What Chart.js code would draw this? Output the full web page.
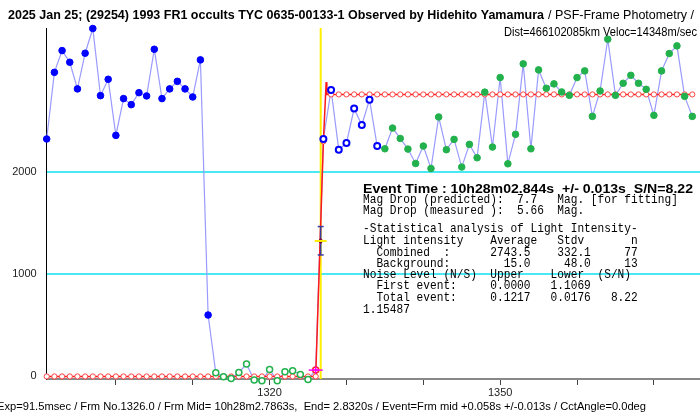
<!DOCTYPE html>
<html>
<head>
<meta charset="utf-8">
<script src="https://cdn.jsdelivr.net/npm/chart.js@4/dist/chart.umd.min.js"></script>
<style>
  html, body { margin: 0; padding: 0; background: #fff; }
  #wrap { width: 700px; height: 417px; }
</style>
</head>
<body>
<div id="wrap"><canvas id="c" width="700" height="417"></canvas></div>
<script>
// ---------------- data ----------------
const preFrames = [1291,1292,1293,1294,1295,1296,1297,1298,1299,1300,1301,1302,1303,1304,1305,1306,1307,1308,1309,1310,1311,1312];
const preValues = [2324,2976,3189,3075,2814,3163,3405,2748,2908,2359,2719,2660,2777,2745,3202,2719,2814,2888,2814,2735,3098,601];

const bgFrames = [1313,1314,1315,1316,1317,1318,1319,1320,1321,1322,1323,1324,1325];
const bgValues = [35,-4,-20,39,121,-36,-43,69,-43,45,55,20,-29];

const evFrames = [1326];
const evValues = [62];

const postBlueFrames = [1327,1328,1329,1330,1331,1332,1333,1334];
const postBlueValues = [2324,2804,2219,2284,2621,2461,2709,2255];

const postGreenFrames = [1335,1336,1337,1338,1339,1340,1341,1342,1343,1344,1345,1346,1347,1348,1349,1350,1351,1352,1353,1354,1355,1356,1357,1358,1359,1360,1361,1362,1363,1364,1365,1366,1367,1368,1369,1370,1371,1372,1373,1374,1375];
const postGreenValues = [2228,2431,2329,2225,2084,2255,2035,2539,2219,2320,2049,2271,2140,2782,2245,2925,2081,2369,3059,2228,3000,2820,2863,2784,2751,2925,2990,2545,2794,3300,2751,2869,2947,2869,2810,2555,2990,3160,3235,2741,2545];

// model (red) : circles at every frame, and the fitted curve
const modelFrames = [1291,1292,1293,1294,1295,1296,1297,1298,1299,1300,1301,1302,1303,1304,1305,1306,1307,1308,1309,1310,1311,1312,1313,1314,1315,1316,1317,1318,1319,1320,1321,1322,1323,1324,1325,1326,1327,1328,1329,1330,1331,1332,1333,1334,1335,1336,1337,1338,1339,1340,1341,1342,1343,1344,1345,1346,1347,1348,1349,1350,1351,1352,1353,1354,1355,1356,1357,1358,1359,1360,1361,1362,1363,1364,1365,1366,1367,1368,1369,1370,1371,1372,1373,1374,1375];
const modelValues = [0,0,0,0,0,0,0,0,0,0,0,0,0,0,0,0,0,0,0,0,0,0,0,0,0,0,0,0,0,0,0,0,0,0,0,0,2300,2760,2760,2760,2760,2760,2760,2760,2760,2760,2760,2760,2760,2760,2760,2760,2760,2760,2760,2760,2760,2760,2760,2760,2760,2760,2760,2760,2760,2760,2760,2760,2760,2760,2760,2760,2760,2760,2760,2760,2760,2760,2760,2760,2760,2760,2760,2760,2760];
const curveFrames = [1291,1326,1327,1327.36,1327.45,1375];
const curveValues = [0,0,2300,2880,2760,2760];

// event
const eventFrame = 1326.65;
const eventLevel = 1326;
const eventErrLow = 1189;
const eventErrHigh = 1467;

// axes
const yMin = -25, yMax = 3410;
const xMin = 1291, xMax = 1376;
const yTickValues = [0, 1000, 2000];
const xTickValues = [1300, 1310, 1320, 1330, 1340, 1350, 1360, 1370];
const xLabelValues = [1320, 1350];

// texts
const titleBold = "2025 Jan 25; (29254) 1993 FR1 occults TYC 0635-00133-1 Observed by Hidehito Yamamura";
const titleNormal = "/ PSF-Frame Photometry /";
const subTitle = "Dist=466102085km Veloc=14348m/sec";
const eventLine = "Event Time : 10h28m02.844s  +/- 0.013s  S/N=8.22";
const statLines = [
  "Mag Drop (predicted):  7.7   Mag. [for fitting]",
  "Mag Drop (measured ):  5.66  Mag.",
  "-Statistical analysis of Light Intensity-",
  "Light intensity    Average   Stdv       n",
  "  Combined  :      2743.5    332.1     77",
  "  Background:        15.0     48.0     13",
  "Noise Level (N/S)  Upper    Lower  (S/N)",
  "  First event:     0.0000   1.1069",
  "  Total event:     0.1217   0.0176   8.22",
  "1.15487"
];
const footer = "Exp=91.5msec / Frm No.1326.0 / Frm Mid= 10h28m2.7863s,  End= 2.8320s / Event=Frm mid +0.058s +/-0.013s / CctAngle=0.0deg";

// ---------------- helpers ----------------
function pts(xs, ys) { return xs.map((x, i) => ({ x: x, y: ys[i] })); }
const allFrames = preFrames.concat(bgFrames, evFrames, postBlueFrames, postGreenFrames);
const allValues = preValues.concat(bgValues, evValues, postBlueValues, postGreenValues);

function fitText(ctx, txt, x, y, w, font, color) {
  ctx.save();
  ctx.font = font; ctx.fillStyle = color;
  ctx.textBaseline = 'middle'; ctx.textAlign = 'left';
  const nat = ctx.measureText(txt).width;
  ctx.translate(x, y); ctx.scale(w / nat, 1);
  ctx.fillText(txt, 0, 0);
  ctx.restore();
}
function monoText(ctx, txt, x, y, charW) {
  ctx.save();
  ctx.font = '13px "Liberation Mono"'; ctx.fillStyle = '#000';
  ctx.textBaseline = 'middle'; ctx.textAlign = 'left';
  const adv = ctx.measureText('M').width;
  ctx.translate(x, y); ctx.scale(charW / adv, 1);
  ctx.fillText(txt, 0, 0);
  ctx.restore();
}

const textPlugin = {
  id: 'texts',
  afterDraw(chart) {
    const ctx = chart.ctx;
    fitText(ctx, titleBold, 8, 16, 536, 'bold 12px "Liberation Sans"', '#000');
    fitText(ctx, titleNormal, 548, 16, 146, '12px "Liberation Sans"', '#000');
    fitText(ctx, subTitle, 504, 32.5, 193, '12px "Liberation Sans"', '#000');
    fitText(ctx, eventLine, 363, 189, 330, 'bold 13px "Liberation Sans"', '#000');
    const ys = [200, 211, 228.3, 240.7, 252.3, 263.3, 274.3, 286, 297.7, 309.3];
    statLines.forEach((t, i) => monoText(ctx, t, 363, ys[i], 6.7));
    fitText(ctx, footer, -3, 407, 649, '11px "Liberation Sans"', '#000');
  }
};

// ---------------- chart ----------------
const tickFont = { family: 'Liberation Sans', size: 11 };

new Chart(document.getElementById('c'), {
  type: 'scatter',
  data: {
    datasets: [
      // event marker (top)
      { data: [{x: eventFrame, y: eventLevel}], pointStyle: 'line', pointRadius: 6, borderColor: '#ffee00', borderWidth: 2, showLine: false, order: 0, clip: false },
      { data: [{x: eventFrame, y: eventLevel}], pointStyle: 'rectRot', pointRadius: 2.5, backgroundColor: '#7a0040', borderColor: '#7a0040', showLine: false, order: 0, clip: false },
      { data: [{x: eventFrame, y: eventErrLow}, {x: eventFrame, y: eventErrHigh}], showLine: true, borderColor: '#3a3aa0', borderWidth: 1.5, pointStyle: 'line', pointRadius: 3, pointBorderColor: '#3a3aa0', pointBorderWidth: 1.5, order: 1, clip: false },
      // magenta cross on event frame
      { data: pts(evFrames, evValues), pointStyle: 'line', pointRadius: 7, borderColor: '#ff00ff', borderWidth: 1.5, showLine: false, order: 2, clip: false },
      { data: pts(evFrames, evValues), pointStyle: 'cross', pointRadius: 3.5, borderColor: '#ff00ff', borderWidth: 1.5, showLine: false, order: 2, clip: false },
      { data: pts(evFrames, evValues), pointStyle: 'circle', pointRadius: 3, backgroundColor: '#fff', borderColor: '#ff2020', borderWidth: 1.5, showLine: false, order: 2, clip: false },
      // observations
      { data: pts(postGreenFrames, postGreenValues), pointStyle: 'circle', pointRadius: 3.3, backgroundColor: '#22b14c', borderColor: '#22b14c', borderWidth: 1, showLine: false, order: 3, clip: false },
      { data: pts(postBlueFrames, postBlueValues), pointStyle: 'circle', pointRadius: 3, backgroundColor: '#fff', borderColor: '#0000ff', borderWidth: 2, showLine: false, order: 3, clip: false },
      { data: pts(bgFrames, bgValues), pointStyle: 'circle', pointRadius: 3, backgroundColor: '#fff', borderColor: '#22b14c', borderWidth: 1.5, showLine: false, order: 3, clip: false },
      { data: pts(preFrames, preValues), pointStyle: 'circle', pointRadius: 3.3, backgroundColor: '#0000ff', borderColor: '#0000ff', borderWidth: 1, showLine: false, order: 3, clip: false },
      // model circles and curve
      { data: pts(modelFrames, modelValues), pointStyle: 'circle', pointRadius: 2.6, backgroundColor: '#fff', borderColor: '#ff4040', borderWidth: 1, showLine: false, order: 4, clip: false },
      { data: pts(curveFrames, curveValues), showLine: true, borderColor: '#ff1a1a', borderWidth: 1.5, pointRadius: 0, tension: 0, order: 5, clip: false },
      // connecting line
      { data: pts(allFrames, allValues), showLine: true, borderColor: '#9a9aff', borderWidth: 1.2, pointRadius: 0, tension: 0, order: 6, clip: false },
      // event vertical line
      { data: [{x: eventFrame, y: yMin}, {x: eventFrame, y: yMax}], showLine: true, borderColor: '#ffee00', borderWidth: 2, pointRadius: 0, order: 7 }
    ]
  },
  options: {
    responsive: false,
    animation: false,
    devicePixelRatio: 1,
    events: [],
    layout: { autoPadding: false, padding: { top: 28, left: 0, right: 0, bottom: 0 } },
    plugins: { legend: { display: false }, tooltip: { enabled: false }, title: { display: false } },
    scales: {
      x: {
        type: 'linear', min: xMin, max: xMax,
        afterBuildTicks: s => { s.ticks = xTickValues.map(v => ({ value: v })); },
        afterFit: s => { s.height = 38; s.paddingLeft = 0; s.paddingRight = 0; },
        ticks: { autoSkip: false, maxRotation: 0, padding: 1, color: '#222', font: tickFont,
                 callback: v => xLabelValues.includes(v) ? String(v) : '' },
        grid: { drawOnChartArea: false, drawTicks: true, tickLength: 6, color: '#444', lineWidth: 1 },
        border: { color: '#888', width: 2 }
      },
      y: {
        type: 'linear', min: yMin, max: yMax,
        afterBuildTicks: s => { s.ticks = yTickValues.map(v => ({ value: v })); },
        afterFit: s => { s.width = 46.7; s.paddingTop = 0; s.paddingBottom = 0; },
        ticks: { padding: 10, color: '#222', font: tickFont, callback: v => String(v) },
        grid: { drawTicks: false, lineWidth: 2,
                color: c => (c.tick && c.tick.value === 0) ? 'rgba(0,0,0,0)' : '#48e8f4' },
        border: { color: '#000', width: 1 }
      }
    }
  },
  plugins: [textPlugin]
});
</script>
</body>
</html>
